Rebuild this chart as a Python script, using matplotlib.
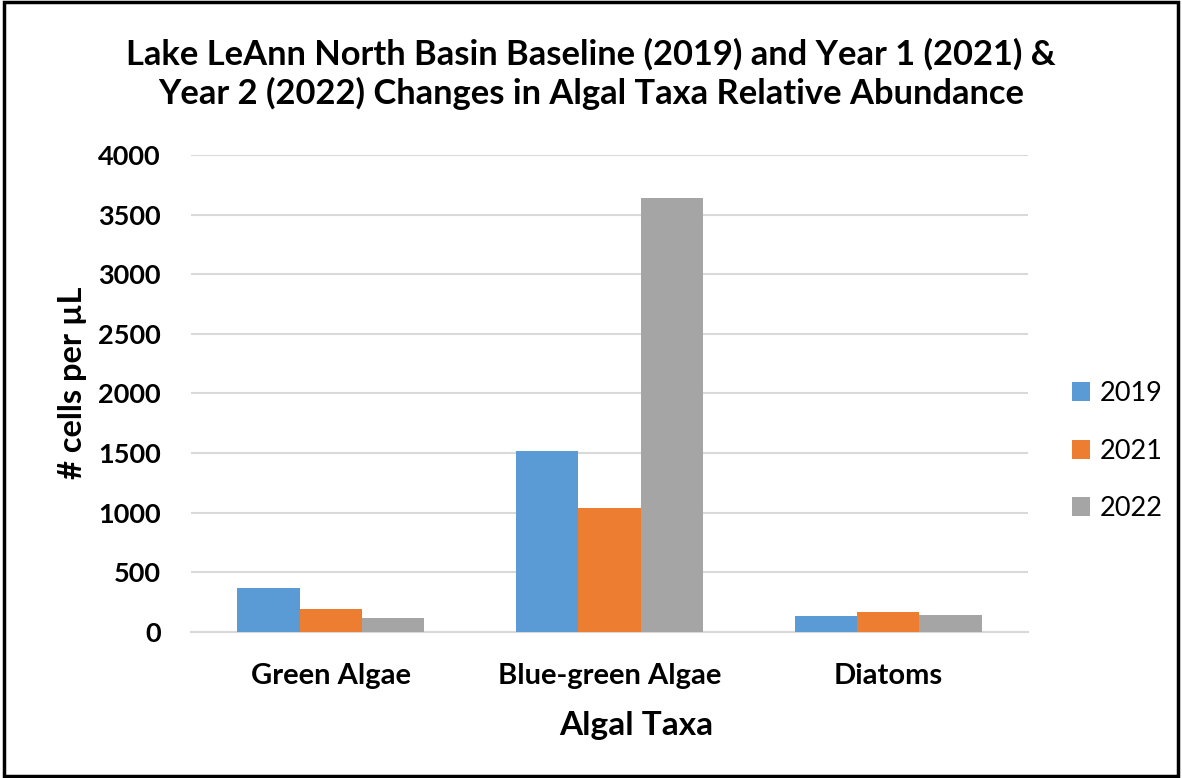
import matplotlib
matplotlib.use("Agg")
import matplotlib.pyplot as plt
import numpy as np
from matplotlib.patches import Rectangle

categories = ["Green Algae", "Blue-green Algae", "Diatoms"]
years = ["2019", "2021", "2022"]
values_2019 = [370, 1517, 131]
values_2021 = [195, 1037, 164]
values_2022 = [120, 3640, 145]
colors = ["#5B9BD5", "#ED7D31", "#A5A5A5"]

plt.rcParams['font.family'] = ['Lato', 'DejaVu Sans']

fig = plt.figure(figsize=(11.82, 7.78), dpi=100)
ax = fig.add_axes([0.1620, 0.1877, 0.7073, 0.6131])

x = np.arange(len(categories))
w = 0.2235
for i, (vals, lab, c) in enumerate(zip([values_2019, values_2021, values_2022], years, colors)):
    ax.bar(x + (i - 1) * w, vals, width=w, color=c, label=lab, zorder=3)

ax.set_xlim(-0.5, 2.5)
ax.set_ylim(0, 4000)
ax.set_yticks(np.arange(0, 4001, 500))
ax.yaxis.grid(True, color="#D9D9D9", linewidth=1.5, zorder=0)
for s in ["top", "right", "left"]:
    ax.spines[s].set_visible(False)
ax.spines["bottom"].set_color("#D9D9D9")
ax.spines["bottom"].set_linewidth(1.5)
ax.tick_params(axis="both", length=0)
ax.tick_params(axis="y", pad=22, labelsize=19.5)
ax.tick_params(axis="x", pad=22, labelsize=21)
ax.set_xticks(x)
ax.set_xticklabels(categories, fontweight="bold")
for t in ax.get_yticklabels():
    t.set_fontweight("bold")
ax.set_xlabel("Algal Taxa", fontsize=24, fontweight="bold")
ax.xaxis.set_label_coords(0.532, -0.165)
ax.set_ylabel("# cells per µL", fontsize=23.5, fontweight="bold")
ax.yaxis.set_label_coords(-0.125, 0.522)

fig.text(0.5, 0.905, "Lake LeAnn North Basin Baseline (2019) and Year 1 (2021) &\nYear 2 (2022) Changes in Algal Taxa Relative Abundance",
         ha="center", va="center", fontsize=24.8, fontweight="bold", linespacing=1.25)

fig.legend(loc="center left", bbox_to_anchor=(0.907, 0.4200), frameon=False, borderpad=0,
           borderaxespad=0, fontsize=19.5, handlelength=0.68, handleheight=0.68,
           labelspacing=1.2, handletextpad=0.35)

fig.patches.append(Rectangle((0.003, 0.003), 0.994, 0.994, transform=fig.transFigure,
                             fill=False, edgecolor="black", linewidth=2.5))

fig.savefig("out.png", dpi=100)
